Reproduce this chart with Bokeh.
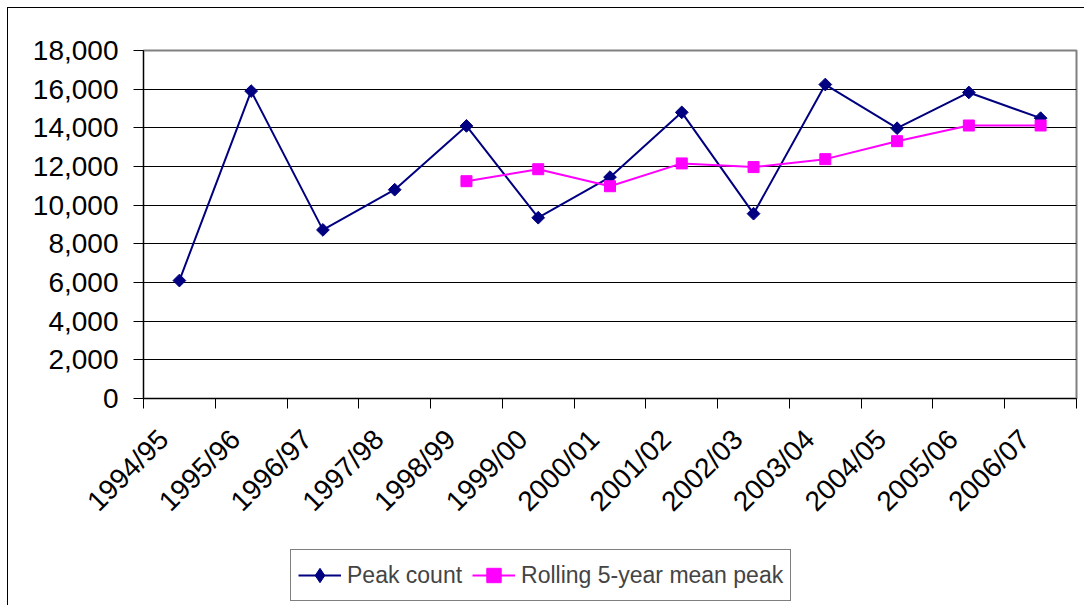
import math
from bokeh.plotting import figure
from bokeh.layouts import column
from bokeh.models import FixedTicker, Legend, LegendItem, Range1d, ColumnDataSource
from bokeh.embed import file_html
from bokeh.resources import INLINE

seasons = ["1994/95", "1995/96", "1996/97", "1997/98", "1998/99", "1999/00", "2000/01",
           "2001/02", "2002/03", "2003/04", "2004/05", "2005/06", "2006/07"]
peak_count = [6100, 15900, 8720, 10800, 14100, 9350, 11450, 14800, 9560, 16240, 13980, 15830, 14500]
rolling_seasons = seasons[4:]
rolling_mean = [11240, 11860, 10980, 12160, 11970, 12380, 13310, 14120, 14120]
y_ticks = [0, 2000, 4000, 6000, 8000, 10000, 12000, 14000, 16000, 18000]

pos = {s: i + 0.5 for i, s in enumerate(seasons)}
src1 = ColumnDataSource(dict(x=[pos[s] for s in seasons], y=peak_count))
src2 = ColumnDataSource(dict(x=[pos[s] for s in rolling_seasons], y=rolling_mean))

FONT = "Liberation Sans"
NAVY = "#000080"
MAGENTA = "#FF00FF"
LABEL_SHIFT = 0.22  # rotated labels sit slightly left of the category centre

p = figure(width=1076, height=535, output_backend="svg", toolbar_location=None,
           x_range=Range1d(0, len(seasons)), y_range=Range1d(0, 18000),
           min_border_left=135, min_border_right=8, min_border_top=42, min_border_bottom=145)
p.background_fill_color = "white"
p.border_fill_color = "white"
p.outline_line_color = "#808080"
p.outline_line_width = 2

# y axis
p.yaxis.ticker = FixedTicker(ticks=y_ticks)
p.yaxis.major_label_overrides = {t: f"{t:,}" for t in y_ticks}
p.yaxis.major_label_text_font = FONT
p.yaxis.major_label_text_font_size = "28px"
p.yaxis.major_label_text_color = "black"
p.yaxis.major_tick_out = 10
p.yaxis.major_tick_in = 0
p.yaxis.major_tick_line_color = "black"
p.yaxis.minor_tick_line_color = None
p.yaxis.axis_line_color = "black"
p.yaxis.major_label_standoff = 15

# x axis: labels near category centres, tick marks at category boundaries
label_pos = [pos[s] - LABEL_SHIFT for s in seasons]
p.xaxis.ticker = FixedTicker(ticks=label_pos, minor_ticks=list(range(len(seasons) + 1)))
p.xaxis.major_label_overrides = {lp: s for lp, s in zip(label_pos, seasons)}
p.xaxis.major_label_orientation = math.pi / 4
p.xaxis.major_label_text_font = FONT
p.xaxis.major_label_text_font_size = "28px"
p.xaxis.major_label_text_color = "black"
p.xaxis.major_tick_out = 0
p.xaxis.major_tick_in = 0
p.xaxis.minor_tick_out = 10
p.xaxis.minor_tick_in = 0
p.xaxis.minor_tick_line_color = "black"
p.xaxis.axis_line_color = "black"
p.xaxis.major_label_standoff = 26

# grid
p.xgrid.grid_line_color = None
p.ygrid.ticker = FixedTicker(ticks=y_ticks[1:-1])
p.ygrid.grid_line_color = "black"
p.ygrid.grid_line_width = 1

p.line("x", "y", source=src1, line_color=NAVY, line_width=2)
p.scatter("x", "y", source=src1, marker="square", angle=math.pi / 4, size=9,
          fill_color=NAVY, line_color=NAVY)
p.line("x", "y", source=src2, line_color=MAGENTA, line_width=2)
p.scatter("x", "y", source=src2, marker="square", size=11,
          fill_color=MAGENTA, line_color=MAGENTA)

# legend strip below the chart
lg = figure(width=1076, height=62, output_backend="svg", toolbar_location=None,
            x_range=Range1d(0, 1), y_range=Range1d(-2, -1),
            x_axis_type=None, y_axis_type=None, min_border=0)
lg.outline_line_color = None
lg.grid.grid_line_color = None
lg.background_fill_color = "white"
lg.border_fill_color = "white"
g1 = lg.line("x", "y", source=src1, line_color=NAVY, line_width=2)
m1 = lg.scatter("x", "y", source=src1, marker="diamond", size=15,
                fill_color=NAVY, line_color=NAVY)
g2 = lg.line("x", "y", source=src2, line_color=MAGENTA, line_width=2)
m2 = lg.scatter("x", "y", source=src2, marker="square", size=11,
                fill_color=MAGENTA, line_color=MAGENTA)

legend = Legend(items=[LegendItem(label="Peak count", renderers=[g1, m1]),
                       LegendItem(label="Rolling 5-year mean peak", renderers=[g2, m2])],
                orientation="horizontal", location=(147, 4),
                label_text_font=FONT, label_text_font_size="23px",
                glyph_width=43, glyph_height=36, label_standoff=6, spacing=10,
                padding=7, margin=0, border_line_color="black", border_line_width=1,
                background_fill_color="white", background_fill_alpha=1)
lg.add_layout(legend, "center")

layout = column(p, lg, spacing=0)
layout.styles = {"outline": "1px solid black", "margin-left": "8px", "margin-top": "8px"}

open("out.html", "w").write(file_html(layout, INLINE))
